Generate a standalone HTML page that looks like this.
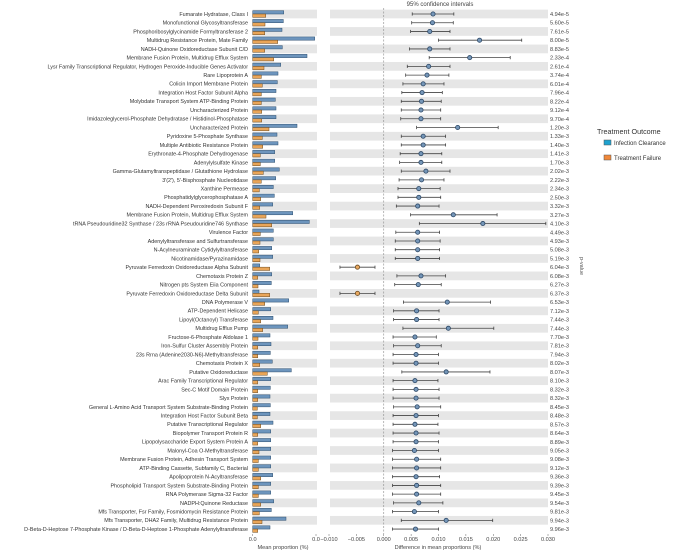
<!DOCTYPE html>
<html><head><meta charset="utf-8"><style>
html,body{margin:0;padding:0;background:#fff;}
svg{display:block;font-family:"Liberation Sans",sans-serif;}
</style></head><body>
<svg id="chart" width="676" height="552" viewBox="0 0 676 552" xmlns="http://www.w3.org/2000/svg">
<text x="440" y="6" font-size="6" fill="#444" text-anchor="middle">95% confidence intervals</text>
<g id="bands"></g><g id="labels"></g><g id="bars"></g><g id="ci"></g><g id="pvals"></g><g id="axes"></g>
<text x="580" y="266" font-size="5.5" fill="#555" text-anchor="middle" transform="rotate(90 580 266)">p-value</text>
<g>
<text x="597" y="134" font-size="7.2" fill="#333">Treatment Outcome</text>
<g><rect x="604" y="140" width="7" height="5" fill="#1fa2cf" stroke="#555" stroke-width="0.5"/><text x="614" y="145" font-size="6" fill="#333">Infection Clearance</text></g>
<g><rect x="604" y="155" width="7" height="5" fill="#f0883a" stroke="#555" stroke-width="0.5"/><text x="614" y="160" font-size="6" fill="#333">Treatment Failure</text></g>
</g>
</svg>
<script>
const categories=["Fumarate Hydratase, Class I","Monofunctional Glycosyltransferase","Phosphoribosylglycinamide Formyltransferase 2","Multidrug Resistance Protein, Mate Family","NADH-Quinone Oxidoreductase Subunit C/D","Membrane Fusion Protein, Multidrug Efflux System","Lysr Family Transcriptional Regulator, Hydrogen Peroxide-Inducible Genes Activator","Rare Lipoprotein A","Colicin Import Membrane Protein","Integration Host Factor Subunit Alpha","Molybdate Transport System ATP-Binding Protein","Uncharacterized Protein","Imidazoleglycerol-Phosphate Dehydratase / Histidinol-Phosphatase","Uncharacterized Protein","Pyridoxine 5-Phosphate Synthase","Multiple Antibiotic Resistance Protein","Erythronate-4-Phosphate Dehydrogenase","Adenylylsulfate Kinase","Gamma-Glutamyltranspeptidase / Glutathione Hydrolase","3'(2'), 5'-Bisphosphate Nucleotidase","Xanthine Permease","Phosphatidylglycerophosphatase A","NADH-Dependent Peroxiredoxin Subunit F","Membrane Fusion Protein, Multidrug Efflux System","tRNA Pseudouridine32 Synthase / 23s rRNA Pseudouridine746 Synthase","Virulence Factor","Adenylyltransferase and Sulfurtransferase","N-Acylneuraminate Cytidylyltransferase","Nicotinamidase/Pyrazinamidase","Pyruvate Ferredoxin Oxidoreductase Alpha Subunit","Chemotaxis Protein Z","Nitrogen pts System Eiia Component","Pyruvate Ferredoxin Oxidoreductase Delta Subunit","DNA Polymerase V","ATP-Dependent Helicase","Lipoyl(Octanoyl) Transferase","Multidrug Efflux Pump","Fructose-6-Phosphate Aldolase 1","Iron-Sulfur Cluster Assembly Protein","23s Rrna (Adenine2030-N6)-Methyltransferase","Chemotaxis Protein X","Putative Oxidoreductase","Arac Family Transcriptional Regulator","Sec-C Motif Domain Protein","Slyx Protein","General L-Amino Acid Transport System Substrate-Binding Protein","Integration Host Factor Subunit Beta","Putative Transcriptional Regulator","Biopolymer Transport Protein R","Lipopolysaccharide Export System Protein A","Malonyl-Coa O-Methyltransferase","Membrane Fusion Protein, Adhesin Transport System","ATP-Binding Cassette, Subfamily C, Bacterial","Apolipoprotein N-Acyltransferase","Phospholipid Transport System Substrate-Binding Protein","RNA Polymerase Sigma-32 Factor","NADPH:Quinone Reductase","Mfs Transporter, Fsr Family, Fosmidomycin Resistance Protein","Mfs Transporter, DHA2 Family, Multidrug Resistance Protein","D-Beta-D-Heptose 7-Phosphate Kinase / D-Beta-D-Heptose 1-Phosphate Adenylyltransferase"];
const clearance=[3.1,3.06,2.93,6.2,2.96,5.43,2.8,2.53,2.46,2.33,2.26,2.33,2.33,4.43,2.43,2.53,2.2,2.2,2.66,2.3,2.06,2.16,2.0,4.0,5.66,2.06,2.06,1.9,2.0,0.7,1.9,1.86,0.63,3.6,1.8,2.03,3.5,1.73,1.83,1.76,1.96,3.86,1.8,1.76,1.73,1.76,1.73,2.03,1.8,1.8,1.8,1.8,1.8,2.0,1.8,1.8,2.1,1.86,3.33,1.73];
const failure=[1.3,1.23,1.2,2.5,1.2,2.1,1.13,0.86,0.96,0.86,0.86,0.9,0.9,1.63,0.96,1.0,0.76,0.76,1.06,0.86,0.66,0.8,0.7,1.33,1.9,0.76,0.73,0.6,0.73,1.7,0.5,0.53,1.7,1.2,0.56,0.8,1.0,0.53,0.5,0.5,0.7,1.46,0.5,0.5,0.5,0.46,0.46,0.8,0.5,0.5,0.63,0.56,0.56,0.8,0.56,0.56,0.8,0.66,0.93,0.5];
const diffMean=[0.0090,0.0089,0.0084,0.0175,0.0084,0.0157,0.0082,0.0079,0.0072,0.0070,0.0069,0.0068,0.0068,0.0135,0.0072,0.0072,0.0068,0.0068,0.0077,0.0069,0.0064,0.0064,0.0062,0.0127,0.0181,0.0062,0.0062,0.0062,0.0062,-0.0048,0.0068,0.0063,-0.0048,0.0116,0.0060,0.0060,0.0118,0.0057,0.0062,0.0059,0.0059,0.0114,0.0057,0.0059,0.0059,0.0061,0.0059,0.0057,0.0059,0.0059,0.0056,0.0060,0.0060,0.0059,0.0060,0.0060,0.0064,0.0056,0.0114,0.0058];
const diffLow=[0.0052,0.0051,0.0049,0.0100,0.0047,0.0083,0.0043,0.0040,0.0035,0.0033,0.0032,0.0032,0.0031,0.0060,0.0032,0.0032,0.0030,0.0029,0.0032,0.0028,0.0026,0.0026,0.0023,0.0049,0.0065,0.0022,0.0021,0.0021,0.0021,-0.0080,0.0024,0.0020,-0.0080,0.0036,0.0018,0.0018,0.0035,0.0017,0.0018,0.0017,0.0017,0.0033,0.0017,0.0017,0.0017,0.0018,0.0017,0.0017,0.0017,0.0017,0.0016,0.0016,0.0016,0.0016,0.0016,0.0016,0.0018,0.0016,0.0032,0.0016];
const diffHigh=[0.0128,0.0127,0.0121,0.0252,0.0121,0.0231,0.0121,0.0119,0.0110,0.0107,0.0105,0.0104,0.0104,0.0209,0.0113,0.0113,0.0106,0.0106,0.0121,0.0110,0.0103,0.0104,0.0101,0.0207,0.0296,0.0102,0.0103,0.0102,0.0102,-0.0016,0.0113,0.0105,-0.0016,0.0195,0.0101,0.0101,0.0201,0.0096,0.0105,0.0100,0.0100,0.0194,0.0099,0.0101,0.0101,0.0104,0.0100,0.0099,0.0101,0.0100,0.0100,0.0104,0.0104,0.0102,0.0104,0.0104,0.0108,0.0100,0.0199,0.0100];
const pvalues=["4.94e-5","5.60e-5","7.61e-5","8.00e-5","8.83e-5","2.33e-4","2.61e-4","3.74e-4","6.01e-4","7.96e-4","8.22e-4","9.12e-4","9.70e-4","1.20e-3","1.33e-3","1.40e-3","1.41e-3","1.70e-3","2.02e-3","2.22e-3","2.34e-3","2.50e-3","3.32e-3","3.27e-3","4.10e-3","4.49e-3","4.93e-3","5.08e-3","5.19e-3","6.04e-3","6.08e-3","6.27e-3","6.37e-3","6.53e-3","7.12e-3","7.44e-3","7.44e-3","7.70e-3","7.81e-3","7.94e-3","8.02e-3","8.07e-3","8.10e-3","8.32e-3","8.32e-3","8.45e-3","8.48e-3","8.57e-3","8.64e-3","8.89e-3","9.05e-3","9.08e-3","9.12e-3","9.36e-3","9.39e-3","9.45e-3","9.54e-3","9.81e-3","9.94e-3","9.96e-3"];
const ciTicks=[-0.010,-0.005,0.000,0.005,0.010,0.015,0.020,0.025,0.030];
const ciTickLabels=["\u22120.010","\u22120.005","0.000","0.005","0.010","0.015","0.020","0.025","0.030"];
const barTicks=[0,6.33];
const barTickLabels=["0.0","0.0"];

const NS="http://www.w3.org/2000/svg";
const X0=252.7,X1=316,BD=[0,6.33];
const C0=329,C1=548,CD=[-0.010,0.030];
const xBar=v=>X0+(v-BD[0])/(BD[1]-BD[0])*(X1-X0);
const xCI=v=>C0+(v-CD[0])/(CD[1]-CD[0])*(C1-C0);
const y0=14,step=8.73;
const yRow=i=>y0+i*step;
function mk(tag,attrs,parent){const e=document.createElementNS(NS,tag);for(const k in attrs)e.setAttribute(k,attrs[k]);parent.appendChild(e);return e;}
const gB=document.getElementById('bands'),gL=document.getElementById('labels'),gR=document.getElementById('bars'),gC=document.getElementById('ci'),gP=document.getElementById('pvals'),gA=document.getElementById('axes');
categories.forEach((c,i)=>{
  const y=yRow(i);
  if(i%2===0){
    const b1=mk('rect',{x:X0,y:y-step/2,width:X1-X0+1,height:step,fill:'#e6e6e6'},gB);
    
    
    const b2=mk('rect',{x:C0+1,y:y-step/2,width:C1-C0-1,height:step,fill:'#e6e6e6'},gB);
    
    
  }
  const t=mk('text',{x:248,y:y+1.9,'font-size':5.4,fill:'#333','text-anchor':'end'},gL);
  t.textContent=c;
  
  
  const rb=mk('rect',{x:X0,y:y-3.3,width:Math.max(0,xBar(clearance[i])-X0),height:3.3,fill:'#6d95bd',stroke:'#2d4e6e','stroke-width':0.5},gR);
  
  
  const ro=mk('rect',{x:X0,y:y,width:Math.max(0,xBar(failure[i])-X0),height:3.3,fill:'#e9a558',stroke:'#6b4a20','stroke-width':0.5},gR);
  
  
  const lo=xCI(diffLow[i]),hi=xCI(diffHigh[i]),m=xCI(diffMean[i]);
  const ln=mk('path',{d:`M${lo},${y}H${hi}M${lo},${y-1.6}V${y+1.6}M${hi},${y-1.6}V${y+1.6}`,stroke:'#444','stroke-width':0.8,fill:'none'},gC);
  
  
  const neg=diffMean[i]<0;
  const pt=mk('circle',{cx:m,cy:y,r:2.1,fill:neg?'#e8a860':'#7596b8',stroke:neg?'#6b4a20':'#2d4866','stroke-width':0.8},gC);
  
  
  const p=mk('text',{x:550,y:y+2,'font-size':5.6,fill:'#444'},gP);
  p.textContent=pvalues[i];
  
  
});
const zl=mk('line',{x1:xCI(0),x2:xCI(0),y1:8,y2:534,stroke:'#888','stroke-width':0.6,'stroke-dasharray':'2,1.5'},gA);


ciTicks.forEach((v,i)=>{
  const x=xCI(v);
  const tk=mk('line',{x1:x,x2:x,y1:534,y2:536,stroke:'#666','stroke-width':0.5},gA);
  
  
  const tl=mk('text',{x:x,y:541,'font-size':5.6,fill:'#444','text-anchor':'middle'},gA);
  tl.textContent=ciTickLabels[i];
  
  
});
barTicks.forEach((v,i)=>{
  const x=xBar(v);
  const tk=mk('line',{x1:x,x2:x,y1:534,y2:536,stroke:'#666','stroke-width':0.5},gA);
  
  
  const tl=mk('text',{x:x,y:541,'font-size':5.6,fill:'#444','text-anchor':'middle'},gA);
  tl.textContent=barTickLabels[i];
  
  
});
const bt=mk('text',{x:283,y:549,'font-size':5.6,fill:'#444','text-anchor':'middle'},gA);
bt.textContent='Mean proportion (%)';


const ct=mk('text',{x:438,y:549,'font-size':5.6,fill:'#444','text-anchor':'middle'},gA);
ct.textContent='Difference in mean proportions (%)';


</script>
</body></html>
